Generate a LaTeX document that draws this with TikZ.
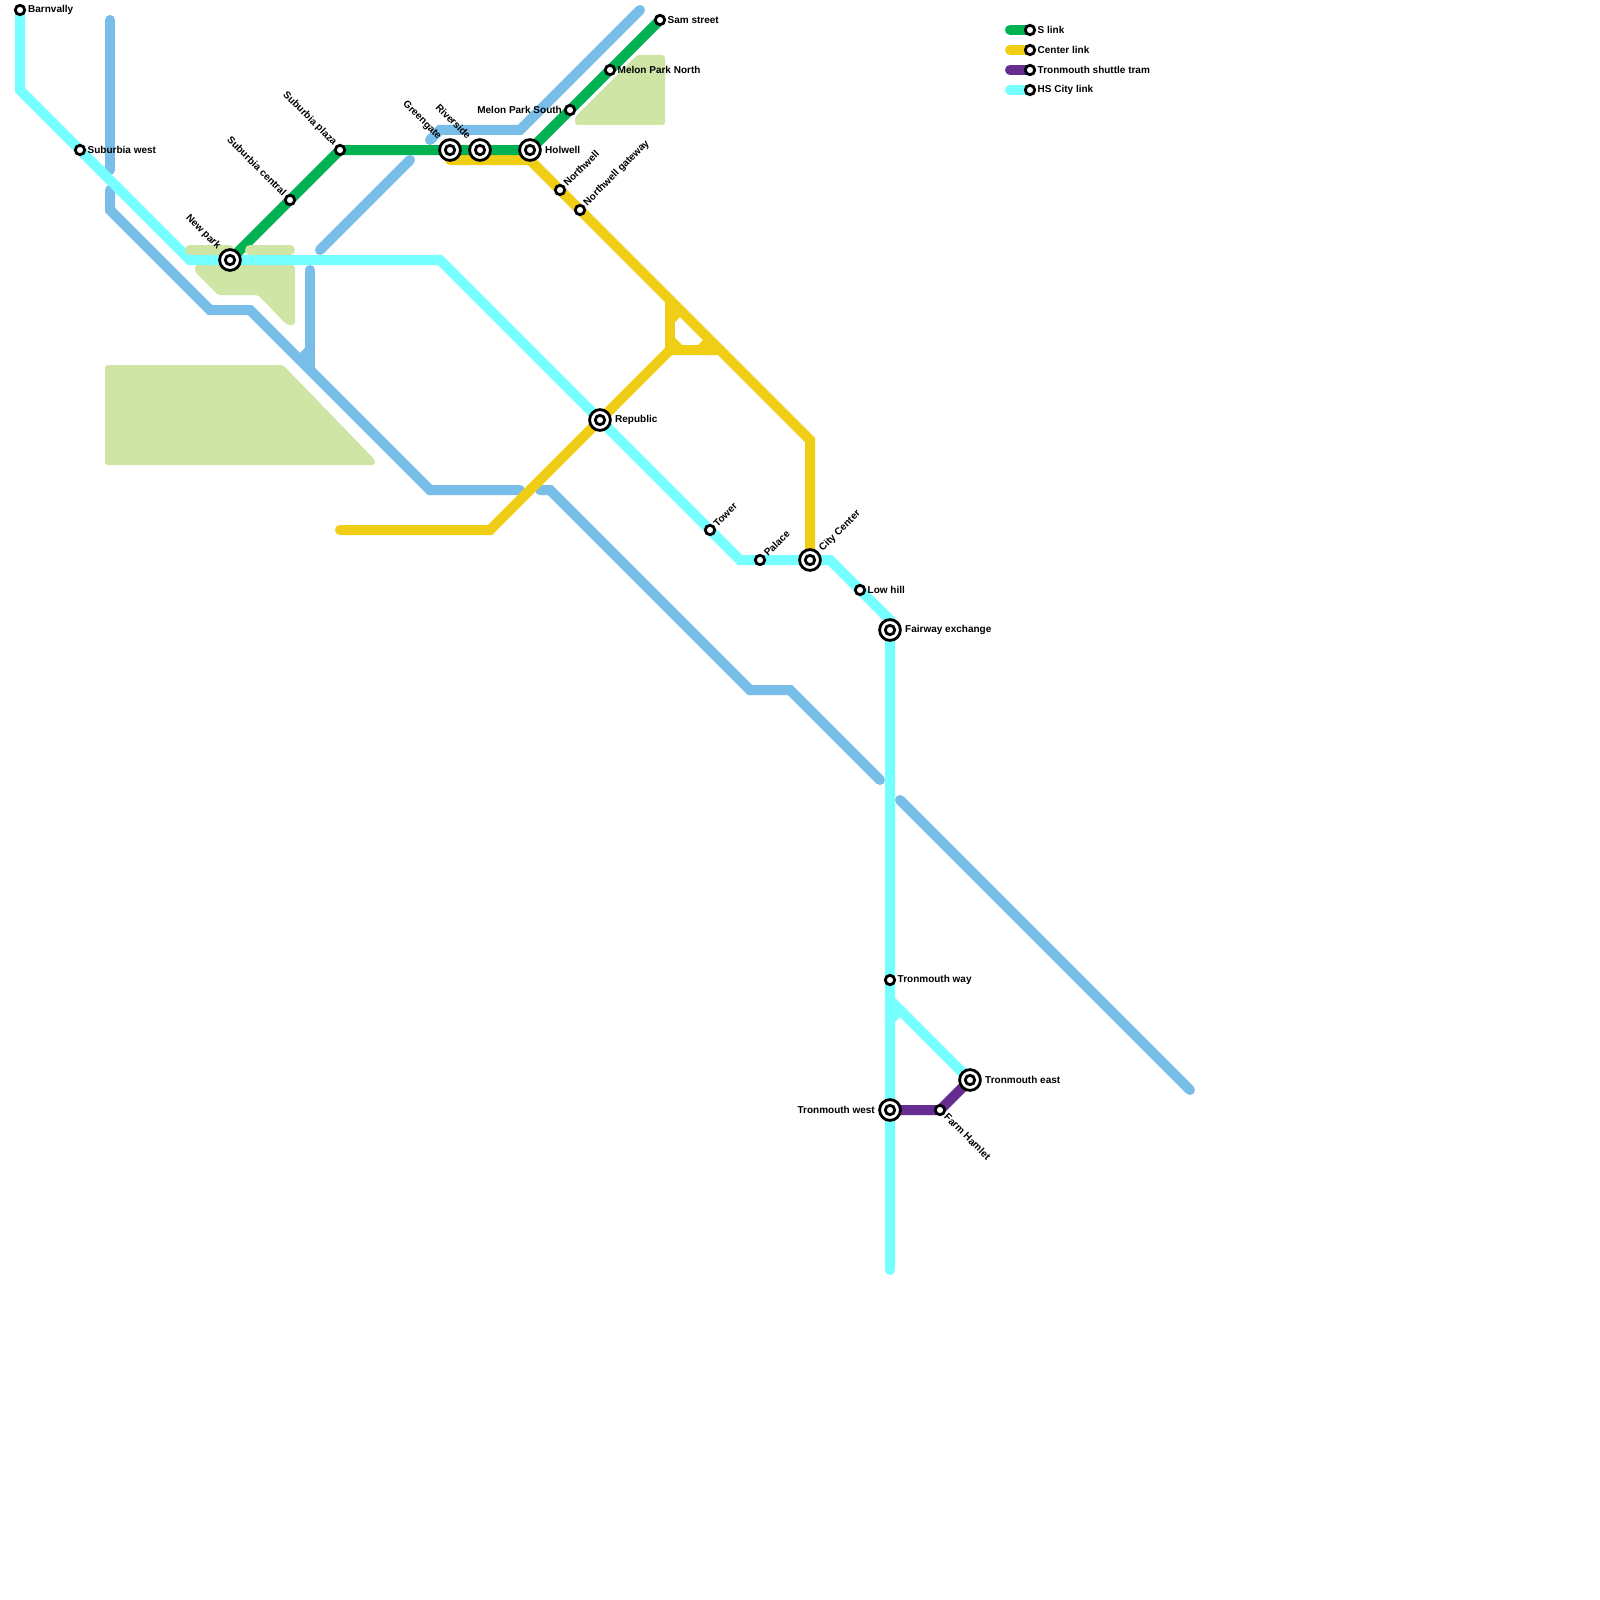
\documentclass[tikz,border=0pt]{standalone}
\usepackage{fontspec}
\setmainfont{Liberation Sans}
\definecolor{cyanl}{HTML}{76FFFF}
\definecolor{bluel}{HTML}{79BDE9}
\definecolor{yellowl}{HTML}{F0CE15}
\definecolor{greenl}{HTML}{00B251}
\definecolor{purplel}{HTML}{662C90}
\definecolor{parkc}{HTML}{CFE5A5}
\pgfdeclarelayer{parks}
\pgfdeclarelayer{lines}
\pgfsetlayers{parks,lines,main}
\tikzset{
  x=1pt,y=-1pt,
  st/.style={circle,draw=black,fill=white,line width=2.8pt,minimum size=9.4pt,inner sep=0pt,outer sep=0pt},
  bigst/.style={circle,draw=black,fill=white,line width=2.8pt,minimum size=20.8pt,inner sep=0pt,outer sep=0pt,
    path picture={\draw[line width=2.8pt] (path picture bounding box.center) circle (4.7pt);}},
  lbl/.style={font=\fontsize{10}{12}\selectfont\bfseries,inner sep=0pt,text=black},
  rte/.style={line width=10pt,line cap=round,line join=miter,miter limit=10},
  park/.style={fill=parkc,rounded corners=3pt},
  parkstrip/.style={line width=10pt,line cap=round,draw=parkc},
}
\begin{document}
\begin{tikzpicture}
\useasboundingbox (0,0) rectangle (1600,1600);
% stations
\node[st] (barn) at (20,10) {};
\node[st] (subw) at (80,150) {};
\node[bigst] (newp) at (230,260) {};
\node[st] (subc) at (290,200) {};
\node[st] (subp) at (340,150) {};
\node[bigst] (gree) at (450,150) {};
\node[bigst] (rive) at (480,150) {};
\node[bigst] (holw) at (530,150) {};
\node[st] (mels) at (570,110) {};
\node[st] (meln) at (610,70) {};
\node[st] (sams) at (660,20) {};
\node[st] (nort) at (560,190) {};
\node[st] (norg) at (580,210) {};
\node[bigst] (repu) at (600,420) {};
\node[st] (towe) at (710,530) {};
\node[st] (pala) at (760,560) {};
\node[bigst] (city) at (810,560) {};
\node[st] (lowh) at (860,590) {};
\node[bigst] (fair) at (890,630) {};
\node[st] (tway) at (890,980) {};
\node[bigst] (twes) at (890,1110) {};
\node[bigst] (teas) at (970,1080) {};
\node[st] (farm) at (940,1110) {};
% legend stations
\node[st] (ls) at (1030,30) {};
\node[st] (lc) at (1030,50) {};
\node[st] (lt) at (1030,70) {};
\node[st] (lh) at (1030,90) {};
% labels
\node[lbl,anchor=west] (tbarn) at (28,10) {Barnvally};
\node[lbl,anchor=west] (tsubw) at (87.5,150) {Suburbia west};
\node[lbl,anchor=east,rotate=-45] (tnewp) at (219,248) {New park};
\node[lbl,anchor=east,rotate=-45] (tsubc) at (285,194) {Suburbia central};
\node[lbl,anchor=east,rotate=-45] (tsubp) at (335,144) {Suburbia plaza};
\node[lbl,anchor=east,rotate=-45] (tgree) at (439.5,138) {Greengate};
\node[lbl,anchor=east,rotate=-45] (trive) at (469.5,137.5) {Riverside};
\node[lbl,anchor=west] (tholw) at (545,150) {Holwell};
\node[lbl,anchor=east] (tmels) at (562,110) {Melon Park South};
\node[lbl,anchor=west] (tmeln) at (617.5,70) {Melon Park North};
\node[lbl,anchor=west] (tsams) at (667.5,20) {Sam street};
\node[lbl,anchor=west,rotate=45] (tnort) at (565,184.5) {Northwell};
\node[lbl,anchor=west,rotate=45] (tnorg) at (585.5,204.5) {Northwell gateway};
\node[lbl,anchor=west] (trepu) at (615,420) {Republic};
\node[lbl,anchor=west,rotate=45] (ttowe) at (715,525) {Tower};
\node[lbl,anchor=west,rotate=45] (tpala) at (765.5,554.5) {Palace};
\node[lbl,anchor=west,rotate=45] (tcity) at (821,550) {City Center};
\node[lbl,anchor=west] (tlowh) at (867.5,590) {Low hill};
\node[lbl,anchor=west] (tfair) at (905,630) {Fairway exchange};
\node[lbl,anchor=west] (ttway) at (897.5,980) {Tronmouth way};
\node[lbl,anchor=east] (ttwes) at (875,1110) {Tronmouth west};
\node[lbl,anchor=west] (tteas) at (985,1080) {Tronmouth east};
\node[lbl,anchor=west,rotate=-45] (tfarm) at (946,1115) {Farm Hamlet};
\node[lbl,anchor=west] (tls) at (1037.5,30) {S link};
\node[lbl,anchor=west] (tlc) at (1037.5,50) {Center link};
\node[lbl,anchor=west] (tlt) at (1037.5,70) {Tronmouth shuttle tram};
\node[lbl,anchor=west] (tlh) at (1037.5,90) {HS City link};
% free line ends and bends
\coordinate (c1) at (20,90);
\coordinate (c2) at (190,260);
\coordinate (c3) at (440,260);
\coordinate (c4) at (740,560);
\coordinate (c5) at (830,560);
\coordinate (c6) at (890,620);
\coordinate (c7) at (890,1270);
\coordinate (c8) at (890,1000);
\coordinate (y1) at (450,160);
\coordinate (y2) at (530,160);
\coordinate (y3) at (810,440);
\coordinate (y4) at (340,530);
\coordinate (y5) at (490,530);
\coordinate (y6) at (670,350);
\coordinate (y7) at (720,350);
\coordinate (y8) at (670,300);
\coordinate (b1) at (110,20);
\coordinate (b2) at (110,170);
\coordinate (b3) at (110,190);
\coordinate (b4) at (110,210);
\coordinate (b5) at (210,310);
\coordinate (b6) at (250,310);
\coordinate (b7) at (430,490);
\coordinate (b8) at (520,490);
\coordinate (b9) at (540,490);
\coordinate (b10) at (550,490);
\coordinate (b11) at (750,690);
\coordinate (b12) at (790,690);
\coordinate (b13) at (880,780);
\coordinate (b14) at (900,800);
\coordinate (b15) at (1190,1090);
\coordinate (b16) at (310,270);
\coordinate (b17) at (310,370);
\coordinate (b18) at (310,350);
\coordinate (b19) at (300,360);
\coordinate (b20) at (320,250);
\coordinate (b21) at (410,160);
\coordinate (b22) at (430,140);
\coordinate (b23) at (440,130);
\coordinate (b24) at (520,130);
\coordinate (b25) at (640,10);
\coordinate (l1) at (1010,30);
\coordinate (l2) at (1010,50);
\coordinate (l3) at (1010,70);
\coordinate (l4) at (1010,90);
\begin{pgfonlayer}{parks}
\fill[white] (0,0) rectangle (1600,1600);
\path[park] (105,365) -- (283,365) -- (375,460) -- (375,465) -- (105,465) -- cycle;
\path[park] (195,265) -- (295,265) -- (295,325) -- (287,325) -- (258,295) -- (218,295) -- (195,272) -- cycle;
\path[park] (637,55) -- (665,55) -- (665,125) -- (575,125) -- (575,117) -- cycle;
\end{pgfonlayer}
\begin{pgfonlayer}{lines}
% blue
\draw[rte,bluel] (b1) -- (b2);
\draw[rte,bluel] (b3) -- (b4) -- (b5) -- (b6) -- (b7) -- (b8);
\draw[rte,bluel] (b9) -- (b10) -- (b11) -- (b12) -- (b13);
\draw[rte,bluel] (b14) -- (b15);
\draw[rte,bluel] (b16) -- (b17);
\draw[rte,bluel] (b18) -- (b19);
\draw[rte,bluel] (b20) -- (b21);
\draw[rte,bluel] (b22) -- (b23) -- (b24) -- (b25);
% cyan
\draw[rte,cyanl] (barn.center) -- (c1) -- (c2) -- (c3) -- (c4) -- (c5) -- (c6) -- (c7);
\draw[rte,cyanl] (c8) -- (teas.center);
\fill[cyanl] (895,1012) -- (900,1017) -- (895,1022) -- cycle;
% yellow
\draw[rte,yellowl] (y1) -- (y2) -- (y3) -- (city.center);
\draw[rte,yellowl] (y4) -- (y5) -- (repu.center) -- (y6) -- (y7);
\draw[rte,yellowl] (y6) -- (y8);
\fill[yellowl] (675,312) -- (680,317) -- (675,322) -- cycle;
\fill[yellowl] (675,338) -- (682,345) -- (675,345) -- cycle;
\fill[yellowl] (698,345) -- (703,340) -- (710,345) -- cycle;
% green
\draw[rte,greenl] (sams.center) -- (holw.center) -- (subp.center) -- (newp.center);
% park strips lie over the green line
\draw[parkstrip] (190,250) -- (229,250);
\draw[parkstrip] (250,250) -- (290,250);
% purple
\draw[rte,purplel] (twes.center) -- (farm.center) -- (teas.center);
% legend
\draw[rte,greenl] (l1) -- (ls.center);
\draw[rte,yellowl] (l2) -- (lc.center);
\draw[rte,purplel] (l3) -- (lt.center);
\draw[rte,cyanl] (l4) -- (lh.center);
\end{pgfonlayer}
\end{tikzpicture}
\end{document}
